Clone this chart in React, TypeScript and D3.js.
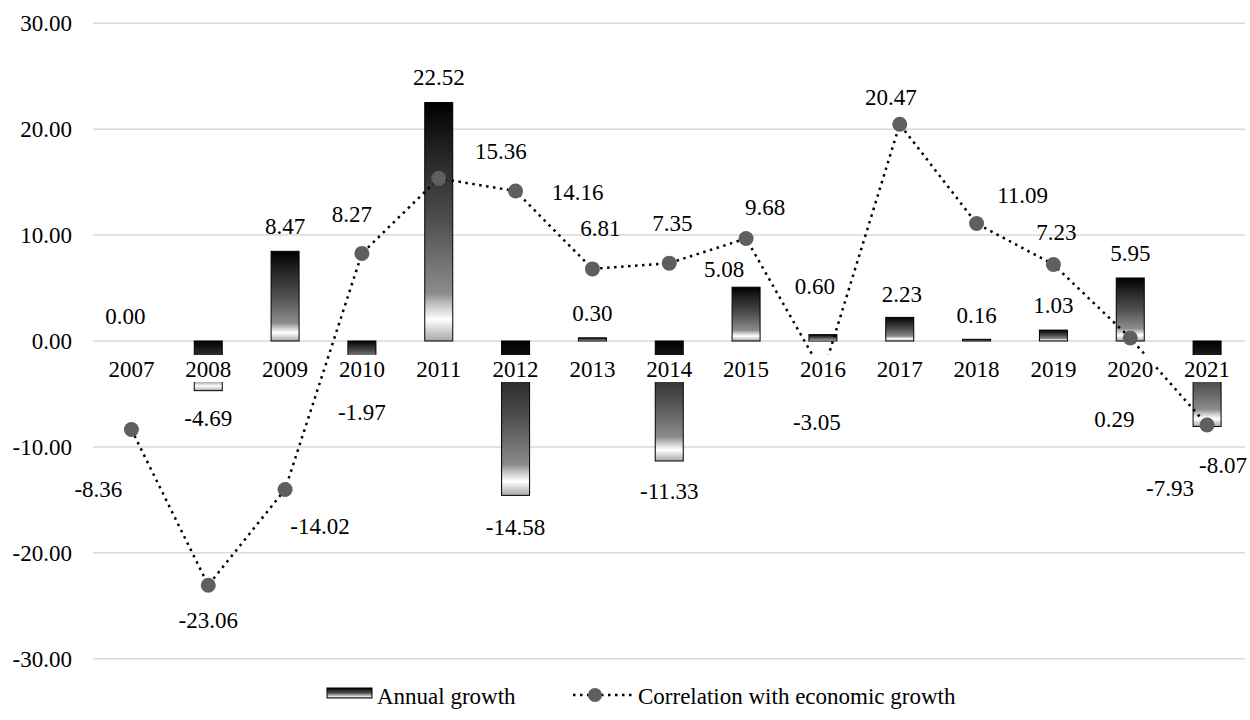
import React from 'react';
import * as d3 from 'd3';

const years = ['2007','2008','2009','2010','2011','2012','2013','2014','2015','2016','2017','2018','2019','2020','2021'];
const annualGrowth = [0.00,-4.69,8.47,-1.97,22.52,-14.58,0.30,-11.33,5.08,0.60,2.23,0.16,1.03,5.95,-8.07];
const correlation = [-8.36,-23.06,-14.02,8.27,15.36,14.16,6.81,7.35,9.68,-3.05,20.47,11.09,7.23,0.29,-7.93];
const yTicks = [30,20,10,0,-10,-20,-30];
const seriesNames = ['Annual growth','Correlation with economic growth'];

// label placement offsets (dx, dy) relative to bar end / point
const barLabelOffsets: [number, number][] = [
  [-6,-25],[0,27],[0,-25],[0,50],[0,-26],[0,32],[0,-25],[0,30],[-22,-18],[-8,-49],[2,-23],[0,-24],[0,-25],[0,-25],[16,38]
];
const lineLabelOffsets: [number, number][] = [
  [-33,59],[0,35],[35,36],[-10,-39],[62,-27],[62,1],[8,-41],[3,-40],[19,-32],[-6,49],[-9,-27],[46,-29],[3,-32],[-16,81],[-37,63]
];

const W = 1250, H = 720;
const FONT = "'Liberation Serif', 'Times New Roman', serif";
const FS = 23;

const fmt = (v: number) => d3.format('.2f')(v).replace('\u2212', '-');

export default function App() {
  const x = d3.scaleBand<string>().domain(years).range([93, 1245.5]).paddingInner(0).paddingOuter(0);
  const y = d3.scaleLinear().domain([-30, 30]).range([658.7, 23.3]);
  const barW = 28;
  const cx = (d: string) => (x(d) as number) + x.bandwidth() / 2;
  const line = d3.line<number>().x((_, i) => cx(years[i])).y(v => y(v));
  const labelBoxY = 355, labelBoxH = 27;
  const ts = { fontFamily: FONT, fontSize: FS };

  return (
    <svg width={W} height={H} style={{ position: 'absolute', left: 0, top: 0, background: '#fff' }}>
      <defs>
        <linearGradient id="barGrad" x1="0" y1="0" x2="0" y2="1">
          <stop offset="0" stopColor="#000" />
          <stop offset="0.15" stopColor="#1a1a1a" />
          <stop offset="0.5" stopColor="#505050" />
          <stop offset="0.8" stopColor="#8c8c8c" />
          <stop offset="0.86" stopColor="#d0d0d0" />
          <stop offset="0.91" stopColor="#ffffff" />
          <stop offset="1" stopColor="#a6a6a6" />
        </linearGradient>
        <linearGradient id="legGrad" x1="0" y1="0" x2="0" y2="1">
          <stop offset="0" stopColor="#000" />
          <stop offset="0.5" stopColor="#505050" />
          <stop offset="0.85" stopColor="#e0e0e0" />
          <stop offset="1" stopColor="#9a9a9a" />
        </linearGradient>
      </defs>
      <rect x={0} y={0} width={W} height={H} fill="#fff" />
      {yTicks.map(t => (
        <line key={'g' + t} x1={93} x2={1245} y1={y(t)} y2={y(t)} stroke="#d9d9d9" strokeWidth={1.5} />
      ))}
      {yTicks.map(t => (
        <text key={'t' + t} x={72} y={y(t)} dy="0.35em" textAnchor="end" style={ts} fill="#000">{fmt(t)}</text>
      ))}
      {annualGrowth.map((v, i) => {
        const y0 = y(0), y1 = y(v);
        const top = Math.min(y0, y1);
        const h = Math.abs(y1 - y0);
        if (h < 0.5) return null;
        return (
          <rect key={'b' + i} x={cx(years[i]) - barW / 2} y={top} width={barW} height={h}
            fill="url(#barGrad)" stroke="#000" strokeWidth={1} />
        );
      })}
      <path d={line(correlation) as string} fill="none" stroke="#000" strokeWidth={2.5}
        strokeDasharray="2.5 4.5" />
      {correlation.map((v, i) => (
        <circle key={'c' + i} cx={cx(years[i])} cy={y(v)} r={7.5} fill="#5f5f5f" />
      ))}
      {years.map(d => (
        <g key={'cat' + d}>
          <rect x={cx(d) - 24} y={labelBoxY} width={48} height={labelBoxH} fill="#fff" />
          <text x={cx(d)} y={labelBoxY + labelBoxH / 2} dy="0.35em" textAnchor="middle" style={ts} fill="#000">{d}</text>
        </g>
      ))}
      {annualGrowth.map((v, i) => (
        <text key={'bl' + i} x={cx(years[i]) + barLabelOffsets[i][0]} y={y(v) + barLabelOffsets[i][1]} dy="0.35em"
          textAnchor="middle" style={ts} fill="#000">{fmt(v)}</text>
      ))}
      {correlation.map((v, i) => (
        <text key={'ll' + i} x={cx(years[i]) + lineLabelOffsets[i][0]} y={y(v) + lineLabelOffsets[i][1]} dy="0.35em"
          textAnchor="middle" style={ts} fill="#000">{fmt(v)}</text>
      ))}
      <g>
        <rect x={327} y={688} width={45} height={10} fill="url(#legGrad)" stroke="#000" strokeWidth={1} />
        <text x={377} y={704} style={ts} fill="#000">{seriesNames[0]}</text>
        <line x1={573} x2={633} y1={695} y2={695} stroke="#000" strokeWidth={2.5} strokeDasharray="2.5 4.5" />
        <circle cx={595} cy={695} r={7} fill="#5f5f5f" />
        <text x={638} y={704} style={ts} fill="#000">{seriesNames[1]}</text>
      </g>
    </svg>
  );
}
